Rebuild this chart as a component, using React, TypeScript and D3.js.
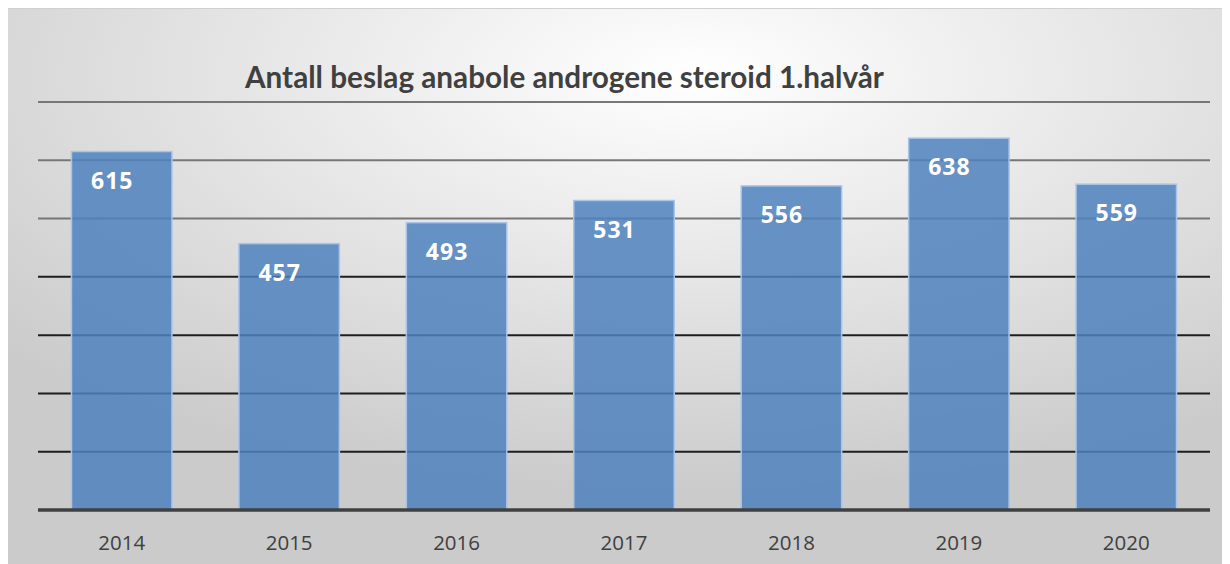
import React from "react";
import * as d3 from "d3";

const years = ["2014", "2015", "2016", "2017", "2018", "2019", "2020"];
const seizures = [615, 457, 493, 531, 556, 638, 559];
const gridValues = [0, 100, 200, 300, 400, 500, 600, 700];
const title = "Antall beslag anabole androgene steroid 1.halvår";

const W = 1222;
const H = 556;

export default function App() {
  const margin = { top: 94, right: 20, bottom: 54, left: 30 };
  const baseline = H - margin.bottom; // 502

  const x = d3
    .scaleBand()
    .domain(years)
    .range([margin.left, W - margin.right])
    .paddingInner(0.4)
    .paddingOuter(0.2);

  const y = d3.scaleLinear().domain([0, 700]).range([baseline, margin.top]);

  const sans = "'Open Sans', sans-serif";

  return (
    <svg width={W} height={H} style={{ display: "block" }}>
      <defs>
        <radialGradient id="bg" cx="56%" cy="12%" r="75%" fx="56%" fy="12%">
          <stop offset="0%" stopColor="#ffffff" />
          <stop offset="100%" stopColor="#cbcbcb" />
        </radialGradient>
      </defs>
      <rect x={0} y={0} width={W} height={H} fill="url(#bg)" />
      <line x1={0} x2={W} y1={0.5} y2={0.5} stroke="#d0d0d0" />

      {/* gridlines */}
      {gridValues.slice(1).map((v) => (
        <line
          key={v}
          x1={margin.left}
          x2={W - margin.right}
          y1={y(v)}
          y2={y(v)}
          stroke={v >= 500 ? "#777777" : "#1e1e1e"}
          strokeWidth={2}
        />
      ))}

      {/* bars */}
      {seizures.map((d, i) => (
        <rect
          key={years[i]}
          x={x(years[i])}
          y={y(d)}
          width={x.bandwidth()}
          height={baseline - y(d)}
          fill="#4f81bd"
          fillOpacity={0.85}
          stroke="#a9c4e6"
          strokeWidth={1.5}
        />
      ))}

      {/* baseline */}
      <line
        x1={margin.left}
        x2={W - margin.right}
        y1={baseline}
        y2={baseline}
        stroke="#404040"
        strokeWidth={3.5}
      />

      {/* value labels */}
      {seizures.map((d, i) => (
        <text
          key={"v" + years[i]}
          x={(x(years[i]) as number) + x.bandwidth() / 2 - 9.5}
          y={y(d) + 37}
          textAnchor="middle"
          fill="#ffffff"
          fontFamily={sans}
          fontWeight="bold"
          fontSize={23}
          letterSpacing={1}
        >
          {d}
        </text>
      ))}

      {/* category labels */}
      {years.map((yr) => (
        <text
          key={"c" + yr}
          x={(x(yr) as number) + x.bandwidth() / 2}
          y={baseline + 40}
          textAnchor="middle"
          fill="#404040"
          fontFamily={sans}
          fontSize={20.5}
        >
          {yr}
        </text>
      ))}

      <text
        x={237}
        y={80}
        fill="#404040"
        fontFamily="Lato, sans-serif"
        fontWeight="bold"
        fontSize={29.7}
      >
        {title}
      </text>
    </svg>
  );
}
